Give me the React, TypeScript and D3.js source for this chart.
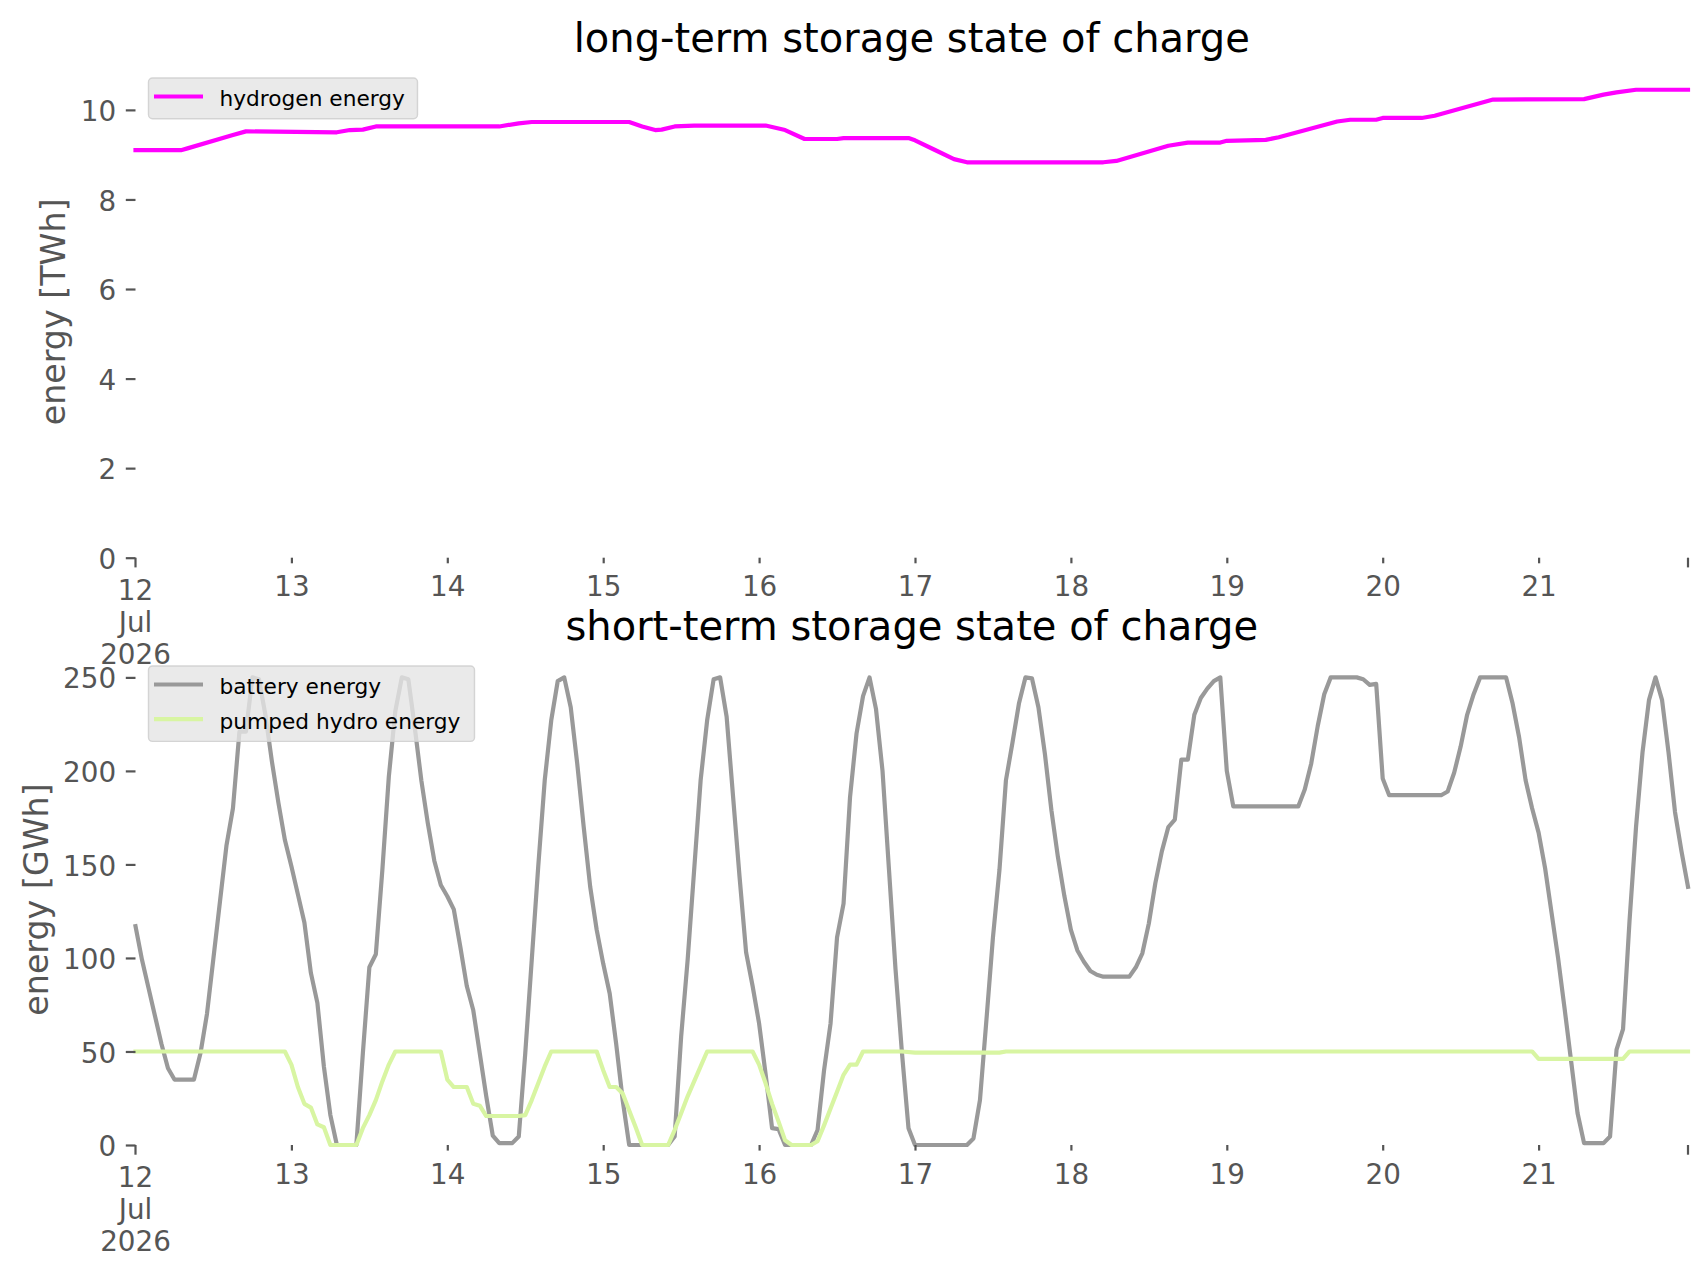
import React, { useEffect, useRef } from 'react';
import * as d3 from 'd3';

// [hours since 12 Jul 2026 00:00, value]
type Point = [number, number];

const START = new Date(2026, 6, 12, 0, 0);
const LAST_HOUR = 239;

// long-term storage, TWh
const hydrogenEnergy: Point[] = [
  [0, 9.1], [7, 9.1], [8, 9.14], [15, 9.44], [17, 9.52], [31, 9.5], [33, 9.55], [35, 9.56],
  [37, 9.63], [56, 9.63], [59, 9.7], [61, 9.73], [76, 9.73], [78, 9.63], [80, 9.55], [81, 9.56],
  [83, 9.63], [86, 9.65], [97, 9.65], [100, 9.55], [103, 9.35], [108, 9.35], [109, 9.37],
  [119, 9.37], [120, 9.32], [123, 9.11], [126, 8.9], [128, 8.83], [149, 8.83], [151, 8.86],
  [159, 9.2], [162, 9.27], [167, 9.27], [168, 9.31], [174, 9.33], [176, 9.39], [185, 9.74],
  [187, 9.78], [191, 9.78], [192, 9.82], [198, 9.82], [200, 9.87], [209, 10.23], [223, 10.24],
  [226, 10.34], [228, 10.39], [231, 10.45], [239, 10.45],
];

// short-term storage, GWh
const batteryEnergy: Point[] = [
  [0, 117], [1, 99], [2, 84], [3, 69], [4, 54], [5, 41], [6, 35], [9, 35], [10, 49], [11, 70],
  [12, 100], [13, 130], [14, 160], [15, 180], [16, 221], [17, 221], [18, 250], [19, 249],
  [20, 230], [21, 205], [22, 183], [23, 163], [24, 149], [25, 134], [26, 119], [27, 92],
  [28, 76], [29, 42], [30, 16], [31, 0], [34, 0], [35, 49], [36, 95], [37, 102], [38, 147],
  [39, 197], [40, 232], [41, 250], [42, 249], [43, 223], [44, 195], [45, 172], [46, 152],
  [47, 139], [48, 133], [49, 126], [50, 106], [51, 85], [52, 72], [53, 49], [54, 26], [55, 5],
  [56, 1], [58, 1], [59, 4.5], [60, 49], [61, 99], [62, 149], [63, 195], [64, 227], [65, 248],
  [66, 250], [67, 234], [68, 204], [69, 170], [70, 138], [71, 115], [72, 97], [73, 81],
  [74, 54], [75, 24], [76, 0], [82, 0], [83, 4.5], [84, 58], [85, 99], [86, 147], [87, 195],
  [88, 227], [89, 249], [90, 250], [91, 229], [92, 186], [93, 143], [94, 103], [95, 85],
  [96, 65], [97, 38], [98, 9], [99, 8.5], [100, 0], [104, 0], [105, 8], [106, 40], [107, 65],
  [108, 111], [109, 129], [110, 186], [111, 220], [112, 240], [113, 250], [114, 233],
  [115, 200], [116, 147], [117, 94], [118, 49], [119, 9], [120, 0], [128, 0], [129, 3.5],
  [130, 24], [131, 67], [132, 111], [133, 147], [134, 195], [135, 215], [136, 236], [137, 250],
  [138, 249.5], [139, 234], [140, 209], [141, 179], [142, 154], [143, 133], [144, 115],
  [145, 104], [146, 98], [147, 93], [148, 91], [149, 90], [153, 90], [154, 95], [155, 102.5],
  [156, 118.5], [157, 140], [158, 157], [159, 170], [160, 174], [161, 206], [162, 206],
  [163, 230], [164, 239], [165, 244], [166, 248], [167, 250], [168, 200], [169, 181],
  [179, 181], [180, 190], [181, 204], [182, 224], [183, 241], [184, 250], [188, 250],
  [189, 249], [190, 246], [191, 246.5], [192, 196], [193, 187], [201, 187], [202, 189],
  [203, 199], [204, 213], [205, 230], [206, 241], [207, 250], [211, 250], [212, 236],
  [213, 218], [214, 195], [215, 180], [216, 167], [217, 148], [218, 124], [219, 100],
  [220, 73], [221, 45], [222, 17], [223, 1], [226, 1], [227, 4.5], [228, 51], [229, 62],
  [230, 120], [231, 170], [232, 210], [233, 238], [234, 250], [235, 238], [236, 210],
  [237, 178], [238, 157], [239, 138],
];

const pumpedHydroEnergy: Point[] = [
  [0, 50], [23, 50], [24, 43], [25, 31], [26, 22], [27, 20], [28, 11], [29, 9.5], [30, 0],
  [34, 0], [35, 9], [36, 16], [37, 24], [38, 34], [39, 43], [40, 50], [47, 50], [48, 35],
  [49, 31], [51, 31], [52, 22], [53, 21], [54, 15.5], [59, 15.5], [60, 16], [61, 24], [62, 33],
  [63, 42], [64, 50], [71, 50], [72, 40], [73, 31], [74, 31], [75, 27.5], [76, 18.5], [77, 9.5],
  [78, 0], [82, 0], [83, 8], [84, 17], [85, 26], [86, 34], [87, 42], [88, 50], [95, 50],
  [96, 43], [97, 33], [98, 22], [99, 12.5], [100, 2.5], [101, 0], [104, 0], [105, 2],
  [106, 10.5], [107, 19.5], [108, 28.5], [109, 37.5], [110, 43], [111, 43], [112, 50],
  [118, 50], [120, 49.4], [133, 49.4], [134, 50], [215, 50], [216, 46], [229, 46], [230, 50],
  [239, 50],
];

const firstTickLabel = ['12', 'Jul', '2026'];
const longTermTicks = [0, 2, 4, 6, 8, 10];
const shortTermTicks = [0, 50, 100, 150, 200, 250];

const FONT = 'DejaVu Sans';
const TICK_COLOR = '#555555';

const App: React.FC = () => {
  const svgRef = useRef<SVGSVGElement>(null);

  useEffect(() => {
    if (!svgRef.current) return;
    const svg = d3.select(svgRef.current);
    svg.selectAll('*').remove();

    const toDate = (h: number) => d3.timeHour.offset(START, h);
    const end = toDate(LAST_HOUR);

    const x = d3.scaleTime().domain([START, end]).range([135.5, 1688]);
    const dayTicks = d3.timeDay.range(d3.timeDay.offset(START, 1), end);

    const panels = [
      {
        title: 'long-term storage state of charge',
        ylabel: 'energy [TWh]',
        top: 66,
        bottom: 557.7,
        ymax: 10.98,
        ticks: longTermTicks,
        ylabelX: 53,
        legendWidth: 269,
        series: [{ name: 'hydrogen energy', color: '#ff00ff', data: hydrogenEnergy }],
      },
      {
        title: 'short-term storage state of charge',
        ylabel: 'energy [GWh]',
        top: 654,
        bottom: 1145,
        ymax: 262.5,
        ticks: shortTermTicks,
        ylabelX: 36,
        legendWidth: 326,
        series: [
          { name: 'battery energy', color: '#999999', data: batteryEnergy },
          { name: 'pumped hydro energy', color: '#d8f5a2', data: pumpedHydroEnergy },
        ],
      },
    ];

    panels.forEach(p => {
      const y = d3.scaleLinear().domain([0, p.ymax]).range([p.bottom, p.top]);
      const g = svg.append('g');

      // Lines
      const line = d3
        .line<Point>()
        .x(d => x(toDate(d[0])))
        .y(d => y(d[1]));

      p.series.forEach(s => {
        g.append('path')
          .datum(s.data)
          .attr('fill', 'none')
          .attr('stroke', s.color)
          .attr('stroke-width', 4.2)
          .attr('stroke-linejoin', 'round')
          .attr('stroke-linecap', 'square')
          .attr('d', line);
      });

      // Y axis
      const yAxis = g
        .append('g')
        .attr('transform', `translate(${x.range()[0]},0)`)
        .call(
          d3.axisLeft(y).tickValues(p.ticks).tickSize(9.7).tickPadding(9.7).tickFormat(d3.format('d'))
        );
      yAxis.select('.domain').remove();
      yAxis.attr('font-family', FONT).attr('font-size', 27.8);
      yAxis.selectAll('line').attr('stroke', TICK_COLOR).attr('stroke-width', 2.2);
      yAxis.selectAll('text').attr('fill', TICK_COLOR).attr('dy', '0.38em');

      // X axis, day ticks
      const xAxis = g
        .append('g')
        .attr('transform', `translate(0,${p.bottom})`)
        .call(
          d3
            .axisBottom(x)
            .tickValues(dayTicks)
            .tickSize(5.6)
            .tickPadding(9.7)
            .tickFormat(d => d3.timeFormat('%-d')(d as Date))
        );
      xAxis.select('.domain').remove();
      xAxis.attr('font-family', FONT).attr('font-size', 27.8);
      xAxis.selectAll('line').attr('stroke', TICK_COLOR).attr('stroke-width', 2.2);
      xAxis.selectAll('text').attr('fill', TICK_COLOR).attr('dy', '0.84em');

      // Major ticks at the ends
      [START, end].forEach(d => {
        g.append('line')
          .attr('x1', x(d))
          .attr('x2', x(d))
          .attr('y1', p.bottom)
          .attr('y2', p.bottom + 9.7)
          .attr('stroke', TICK_COLOR)
          .attr('stroke-width', 2.2);
      });
      const major = g
        .append('text')
        .attr('font-family', FONT)
        .attr('font-size', 27.8)
        .attr('fill', TICK_COLOR)
        .attr('text-anchor', 'middle');
      firstTickLabel.forEach((t, i) => {
        major
          .append('tspan')
          .attr('x', x(START))
          .attr('y', p.bottom + 42 + i * 32)
          .text(t);
      });

      // Title
      g.append('text')
        .attr('x', (x.range()[0] + x.range()[1]) / 2)
        .attr('y', p.top - 13.7)
        .attr('text-anchor', 'middle')
        .attr('font-family', FONT)
        .attr('font-size', 40)
        .attr('fill', '#000')
        .text(p.title);

      // Y label
      g.append('text')
        .attr('transform', `translate(${p.ylabelX},${(p.top + p.bottom) / 2}) rotate(-90)`)
        .attr('text-anchor', 'middle')
        .attr('dy', '0.35em')
        .attr('font-family', FONT)
        .attr('font-size', 33.3)
        .attr('fill', TICK_COLOR)
        .text(p.ylabel);

      // Legend
      const lx = 148.5;
      const ly = p.top + 12;
      const rowH = 34.7;
      const legend = g.append('g').attr('transform', `translate(${lx},${ly})`);
      legend
        .append('rect')
        .attr('width', p.legendWidth)
        .attr('height', 6 + p.series.length * rowH)
        .attr('rx', 4)
        .attr('fill', '#e5e5e5')
        .attr('fill-opacity', 0.8)
        .attr('stroke', '#cccccc')
        .attr('stroke-opacity', 0.8)
        .attr('stroke-width', 1.4);

      p.series.forEach((s, i) => {
        const cy = 18.5 + i * rowH;
        legend
          .append('line')
          .attr('x1', 5.5)
          .attr('x2', 54.5)
          .attr('y1', cy)
          .attr('y2', cy)
          .attr('stroke', s.color)
          .attr('stroke-width', 4.2);
        legend
          .append('text')
          .attr('x', 71)
          .attr('y', cy + 2)
          .attr('dy', '0.35em')
          .attr('font-family', FONT)
          .attr('font-size', 21.7)
          .attr('fill', '#000')
          .text(s.name);
      });
    });
  }, []);

  return (
    <svg
      ref={svgRef}
      width={1706}
      height={1277}
      style={{ position: 'absolute', left: 0, top: 0, background: '#ffffff' }}
    />
  );
};

export default App;
